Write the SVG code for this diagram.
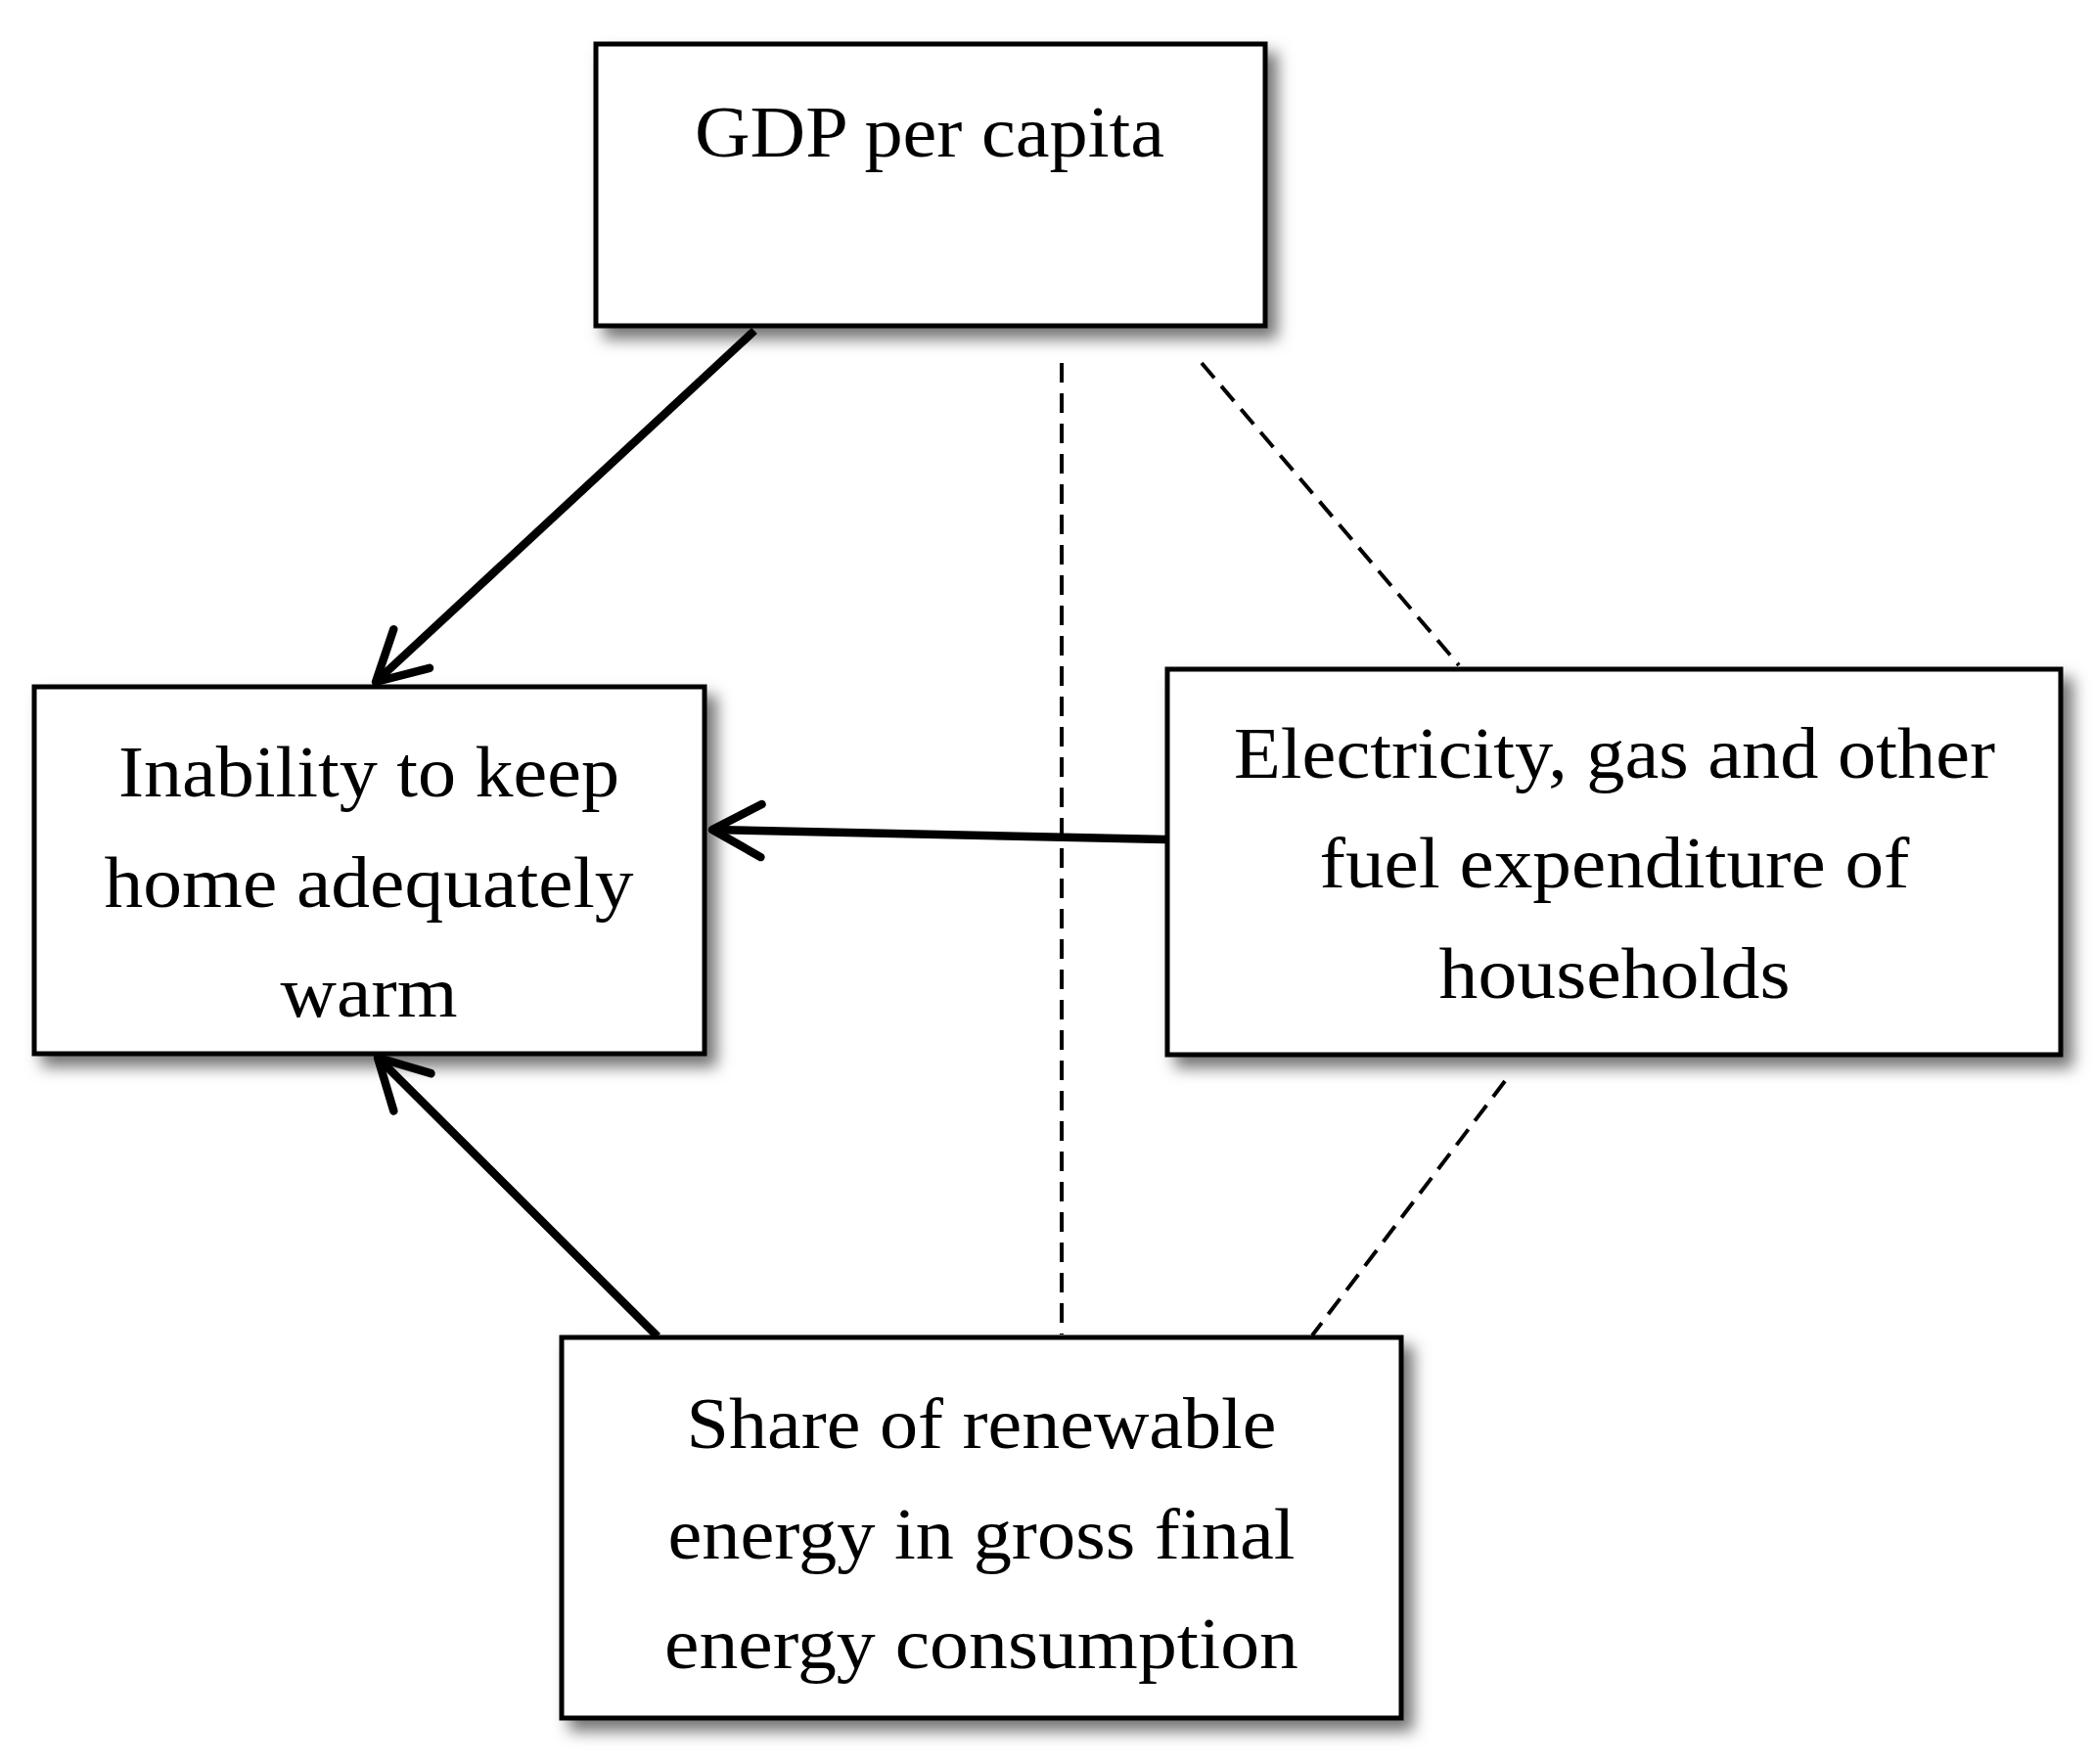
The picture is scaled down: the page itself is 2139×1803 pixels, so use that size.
<svg xmlns="http://www.w3.org/2000/svg" width="2139" height="1803" viewBox="0 0 2139 1803">
<style>
.box{fill:#fff;stroke:#000;stroke-width:5;filter:url(#sh)}
.t{font-family:"Liberation Serif","Times New Roman",serif;font-size:74px;fill:#000;text-anchor:middle}
.arr{stroke:#000;stroke-width:8.5;fill:none;marker-end:url(#ah)}
.dash{stroke:#000;stroke-width:4;fill:none;stroke-dasharray:20 11}
</style>
<defs>
<filter id="sh" x="-10%" y="-10%" width="130%" height="130%">
<feDropShadow dx="10" dy="11" stdDeviation="8" flood-color="#000" flood-opacity="0.55"/>
</filter>
<marker id="ah" markerUnits="userSpaceOnUse" markerWidth="120" markerHeight="120" viewBox="-60 -60 120 120" refX="0" refY="0" orient="auto" overflow="visible">
<path d="M -50 -27 L 0 0 L -50 27" stroke="#000" stroke-width="8.5" fill="none" stroke-linecap="round" stroke-linejoin="round"/>
</marker>
</defs>
<rect width="2139" height="1803" fill="#fff"/>
<g id="connectors">
<line class="dash" x1="1085" y1="371" x2="1085" y2="1364"/>
<line class="dash" x1="1228" y1="371" x2="1491" y2="680"/>
<line class="dash" x1="1538" y1="1105" x2="1341" y2="1365"/>
<line class="arr" x1="771" y1="338" x2="384" y2="697"/>
<line class="arr" x1="1191" y1="858" x2="728" y2="848"/>
<line class="arr" x1="672" y1="1366" x2="386" y2="1081"/>
</g>
<g id="gdp">
<rect class="box" x="609" y="45" width="684" height="288"/>
<text class="t" x="950" y="160" textLength="480" lengthAdjust="spacingAndGlyphs">GDP per capita</text>
</g>
<g id="inability">
<rect class="box" x="35" y="702" width="685" height="375"/>
<text class="t" x="377" y="814" textLength="512" lengthAdjust="spacingAndGlyphs">Inability to keep</text>
<text class="t" x="377" y="927" textLength="541" lengthAdjust="spacingAndGlyphs">home adequately</text>
<text class="t" x="377" y="1039" textLength="181" lengthAdjust="spacingAndGlyphs">warm</text>
</g>
<g id="electricity">
<rect class="box" x="1193" y="684" width="913" height="394"/>
<text class="t" x="1650" y="795" textLength="778" lengthAdjust="spacingAndGlyphs">Electricity, gas and other</text>
<text class="t" x="1650" y="907" textLength="603" lengthAdjust="spacingAndGlyphs">fuel expenditure of</text>
<text class="t" x="1650" y="1020" textLength="359" lengthAdjust="spacingAndGlyphs">households</text>
</g>
<g id="share">
<rect class="box" x="574" y="1367" width="858" height="389"/>
<text class="t" x="1003" y="1480" textLength="603" lengthAdjust="spacingAndGlyphs">Share of renewable</text>
<text class="t" x="1003" y="1593" textLength="641" lengthAdjust="spacingAndGlyphs">energy in gross final</text>
<text class="t" x="1003" y="1705" textLength="648" lengthAdjust="spacingAndGlyphs">energy consumption</text>
</g>
</svg>
